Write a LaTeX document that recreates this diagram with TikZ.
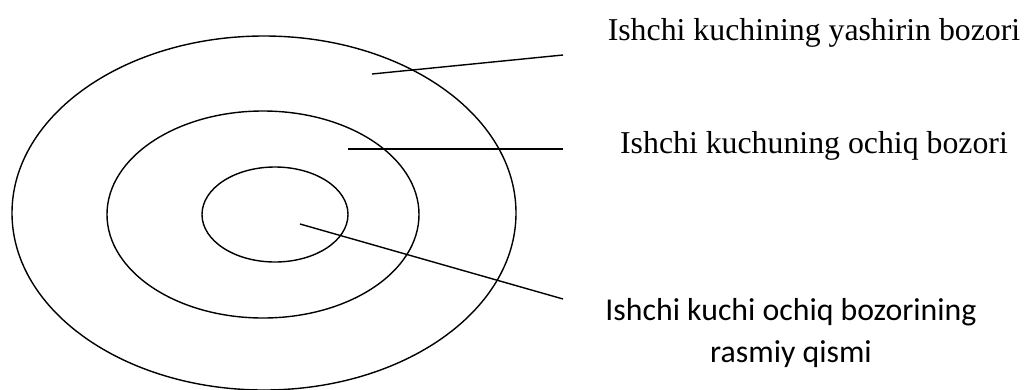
\documentclass[tikz,border=0pt]{standalone}
\usepackage{fontspec}
\setmainfont{Liberation Serif}
\newfontfamily\calfont{Carlito}
\usetikzlibrary{shapes.geometric}
\tikzset{ring/.style={ellipse,draw,line width=1.4pt,inner sep=0pt},label/.style={anchor=base,inner sep=0pt,font=\fontsize{31.8}{42}\selectfont},line/.style={line width=1.4pt}}

\begin{document}
\begin{tikzpicture}[x=1pt,y=-1pt]
\useasboundingbox (0,0) rectangle (1025,389);
\node[ring, minimum width=504pt, minimum height=354pt] (outer) at (264,213) {};
\node[ring, minimum width=312pt, minimum height=207pt] (middle) at (263,214.5) {};
\node[ring, minimum width=146pt, minimum height=95pt] (inner) at (275,214.5) {};
\node[label] (hidden) at (814,40) {Ishchi kuchining yashirin bozori};
\node[label] (open) at (814,153) {Ishchi kuchuning ochiq bozori};
\node[label, align=center, font=\calfont\fontsize{31.8}{42}\selectfont] (formal) at (791,362) {Ishchi kuchi ochiq bozorining\\rasmiy qismi};
\coordinate (p1) at (372,74);
\coordinate (e1) at (563,55);
\coordinate (p2) at (348,149);
\coordinate (e2) at (563,149);
\coordinate (p3) at (300,224);
\coordinate (e3) at (563,299);
\draw[line] (p1) -- (e1);
\draw[line] (p2) -- (e2);
\draw[line] (p3) -- (e3);
\end{tikzpicture}
\end{document}
